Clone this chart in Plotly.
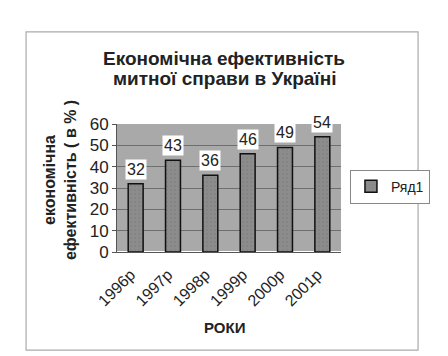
import plotly.graph_objects as go

years = ["1996р", "1997р", "1998р", "1999р", "2000р", "2001р"]
values = [32, 43, 36, 46, 49, 54]
series_name = "Ряд1"
title_lines = ["Економічна ефективність", "митної справи в Україні"]
y_title = "економічна<br>ефективність ( в % )"
x_title = "РОКИ"

fig = go.Figure()
fig.add_trace(go.Bar(
    x=years, y=values, name=series_name,
    marker=dict(color="#8c8c8c", line=dict(color="#111111", width=1.5),
                pattern=dict(shape=".", fgcolor="#7a7a7a", size=4, solidity=0.2)),
    showlegend=True,
))

for xv, yv in zip(years, values):
    fig.add_annotation(x=xv, y=yv, text=str(yv), showarrow=False,
                       yanchor="bottom", yshift=4, bgcolor="white",
                       font=dict(size=16, color="#222222"), borderpad=1)

# title lines
for txt, py in zip(title_lines, [1.508, 1.359]):
    fig.add_annotation(xref="paper", yref="paper", x=0.478, y=py, text="<b>" + txt + "</b>",
                       showarrow=False, xanchor="center", yanchor="middle",
                       font=dict(size=19, color="#222222"))

# y axis title
fig.add_annotation(xref="paper", yref="paper", x=-0.254, y=0.5625, text="<b>" + y_title + "</b>",
                   showarrow=False, textangle=-90, xanchor="center", yanchor="middle",
                   font=dict(size=16, color="#222222"))
# x axis title
fig.add_annotation(xref="paper", yref="paper", x=0.482, y=-0.586, text="<b>" + x_title + "</b>",
                   showarrow=False, xanchor="center", yanchor="middle",
                   font=dict(size=15, color="#222222"))

fig.add_shape(type="rect", xref="paper", yref="paper",
              x0=-0.406, x1=1.344, y0=-0.766, y1=1.719,
              line=dict(color="#aaaaaa", width=1.2), fillcolor="rgba(0,0,0,0)",
              layer="below")

fig.update_layout(
    width=448, height=356,
    margin=dict(l=109, r=115, t=116, b=112, autoexpand=False),
    paper_bgcolor="white",
    plot_bgcolor="#a9a9a9",
    font=dict(family="Liberation Sans, Arial, sans-serif", color="#222222"),
    bargap=0.6,
    legend=dict(x=1.04, y=0.51, xanchor="left", yanchor="middle",
                bgcolor="white", bordercolor="#888888", borderwidth=1,
                font=dict(size=14), itemwidth=30, tracegroupgap=0),
    xaxis=dict(tickangle=-45, tickfont=dict(size=16), showline=True,
               linecolor="#555555", ticks="", automargin=False,
               ticklabelstandoff=6, ticklabelshift=-5),
    yaxis=dict(range=[0, 60], dtick=10, tickfont=dict(size=17),
               showgrid=True, gridcolor="#6e6e6e", gridwidth=1, automargin=False,
               showline=True, linecolor="#555555", ticks="outside", ticklen=4,
               tickcolor="#555555"),
)

fig.write_html("out.html")
